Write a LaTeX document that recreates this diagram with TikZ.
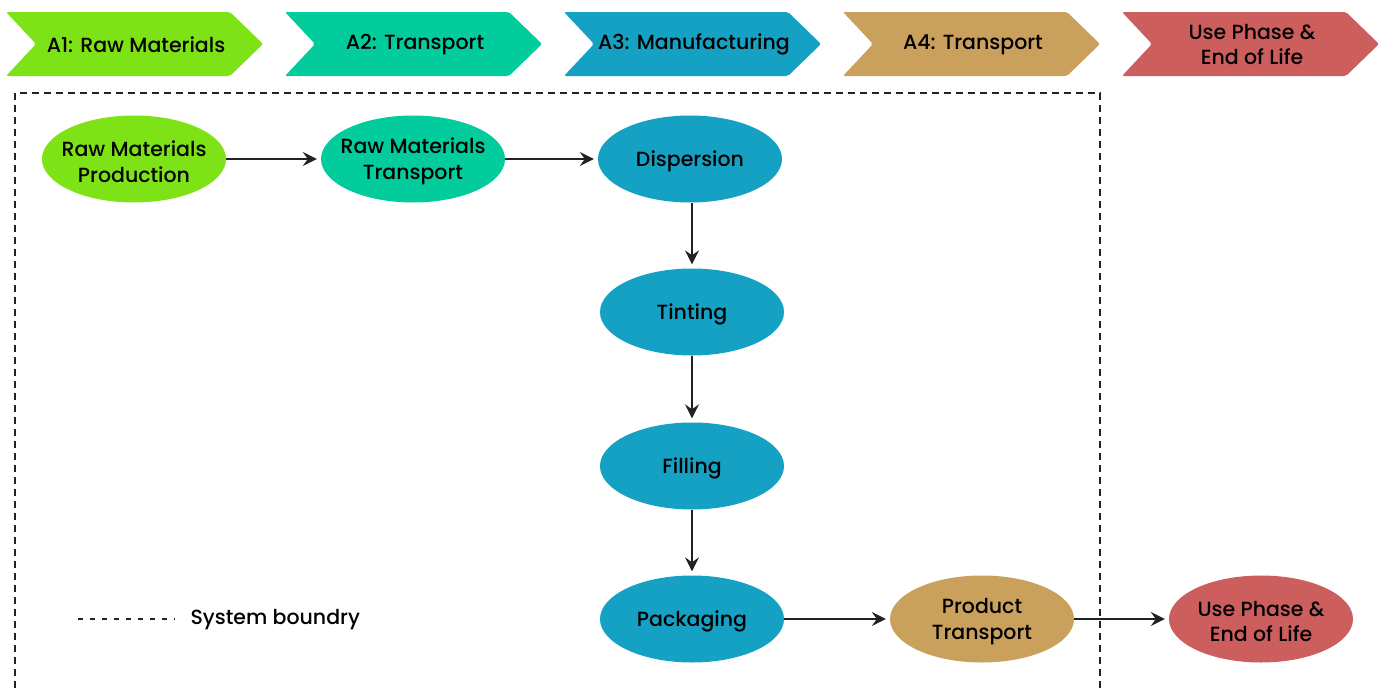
\documentclass[tikz,border=0pt]{standalone}
\usepackage{fontspec}
\setmainfont{Poppins}[UprightFont=* Medium]
\usetikzlibrary{shapes.geometric,arrows.meta}
\definecolor{cA}{HTML}{7DE317}
\definecolor{cB}{HTML}{03CC9C}
\definecolor{cC}{HTML}{14A1C4}
\definecolor{cD}{HTML}{CAA05D}
\definecolor{cE}{HTML}{CC5E5E}
\definecolor{ink}{HTML}{222222}
\tikzset{
  lbl/.style={font=\fontsize{20.5}{25.5}\selectfont, align=center, text=black},
  proc/.style 2 args={ellipse, fill=#1, minimum width=184pt, minimum height=87pt, inner sep=0pt,
    label={[lbl, yshift=-2.5pt]center:{#2}}},
  flow/.style={draw=ink, line width=1.3pt, shorten >=4pt, -{Stealth[length=14pt,width=14pt,inset=5pt]}},
  boundary/.style={draw=ink, line width=1.2pt, dash pattern=on 7pt off 5pt}
}
\newcommand{\chev}[4]{%
  \fill[#2, rounded corners=2pt] (#1,12) -- (#1+224,12) -- (#1+257,44) -- (#1+224,76) -- (#1,76) -- (#1+30,44) -- cycle;
  \node[lbl] (#4) at (#1+130,44.5) {#3};}
\begin{document}
\begin{tikzpicture}[x=1pt,y=-1pt]
\useasboundingbox (0,0) rectangle (1384,688);
% phase chevrons
\chev{6}{cA}{A1: Raw Materials}{ph1}
\chev{285}{cB}{A2: Transport}{ph2}
\chev{564}{cC}{A3: Manufacturing}{ph3}
\chev{843}{cD}{A4: Transport}{ph4}
\chev{1122}{cE}{Use Phase \&\\End of Life}{ph5}
% system boundary
\coordinate (bl) at (15,688);
\coordinate (tl) at (15,93);
\coordinate (tr) at (1100,93);
\coordinate (br) at (1100,688);
\draw[boundary] (bl) -- (tl) -- (tr) -- (br);
% process nodes
\node[proc={cA}{Raw Materials\\Production}] (rmp) at (134,159) {};
\node[proc={cB}{Raw Materials\\Transport}] (rmt) at (413,159) {};
\node[proc={cC}{Dispersion}] (disp) at (690,159) {};
\node[proc={cC}{Tinting}] (tint) at (692,312) {};
\node[proc={cC}{Filling}] (fill) at (692,466) {};
\node[proc={cC}{Packaging}] (pack) at (692,619) {};
\node[proc={cD}{Product\\Transport}] (prod) at (982,619) {};
\node[proc={cE}{Use Phase \&\\End of Life}] (use) at (1261,619) {};
% flows
\draw[flow] (rmp) -- (rmt);
\draw[flow] (rmt) -- (disp);
\draw[flow] (disp.south -| tint.north) -- (tint.north);
\draw[flow] (tint) -- (fill);
\draw[flow] (fill) -- (pack);
\draw[flow] (pack) -- (prod);
\draw[flow] (prod) -- (use);
% legend
\coordinate (lg1) at (78,619);
\coordinate (lg2) at (175,619);
\draw[draw=ink, line width=1.2pt, dash pattern=on 5pt off 7pt] (lg1) -- (lg2);
\node[lbl, anchor=west] (lgt) at (187,620) {System boundry};
\end{tikzpicture}
\end{document}
